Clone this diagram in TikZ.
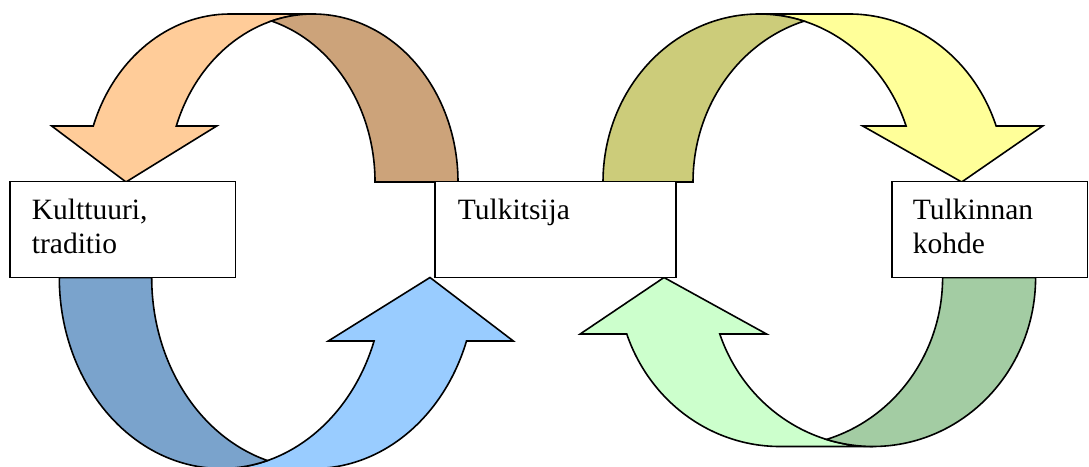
\documentclass[tikz,border=0pt]{standalone}
\usepackage{fontspec}
\setmainfont{Liberation Serif}

\definecolor{orangefront}{HTML}{FFCC99}
\definecolor{orangeback}{HTML}{CCA37A}
\definecolor{yellowfront}{HTML}{FFFF99}
\definecolor{yellowback}{HTML}{CCCC7A}
\definecolor{bluefront}{HTML}{99CCFF}
\definecolor{blueback}{HTML}{7AA3CC}
\definecolor{greenfront}{HTML}{CCFFCC}
\definecolor{greenback}{HTML}{A3CCA3}

\tikzset{
  band/.style={draw=black, line width=1.6pt, line join=miter},
  box/.style={draw=black, fill=white, line width=1.6pt, rectangle,
    inner sep=0pt, outer sep=0pt, anchor=north west},
  lbl/.style={inner sep=0pt, anchor=base west,
    font=\fontsize{29.5}{33}\selectfont},
  % radii of the two equal ellipses in each curved arrow
  rTL/.style={x radius=145pt, y radius=168pt},
  rTR/.style={x radius=156pt, y radius=168pt},
  rBR/.style={x radius=162.6pt, y radius=169pt},
  rBL/.style={x radius=162pt, y radius=191pt},
}

\begin{document}
\begin{tikzpicture}[x=1pt,y=1pt]
\useasboundingbox (0,0) rectangle (1089,466);
\clip (0,0) rectangle (1089,466);

% ---- upper left: curved arrow from Tulkitsija back to Kulttuuri
\filldraw[band, fill=orangefront]
  (93.3,340) arc[rTL, start angle=160.53, end angle=90]
  -- (313,452) arc[rTL, start angle=90, end angle=160.53]
  -- (216.7,340) -- (126,284) -- (51.7,340) -- cycle;
\filldraw[band, fill=orangeback]
  (458,284) arc[rTL, start angle=0, end angle=106.63]
  arc[rTL, start angle=73.37, end angle=0] -- cycle;

% ---- upper right: curved arrow from Tulkitsija to the object
\filldraw[band, fill=yellowfront]
  (996.1,340) arc[rTR, start angle=19.47, end angle=90]
  -- (759,452) arc[rTR, start angle=90, end angle=19.47]
  -- (862.7,340) -- (961.7,284) -- (1042.7,340) -- cycle;
\filldraw[band, fill=yellowback]
  (603,284) arc[rTR, start angle=180, end angle=73.23]
  arc[rTR, start angle=106.77, end angle=180] -- cycle;

% ---- lower right: curved arrow from the object back to Tulkitsija
\filldraw[band, fill=greenfront]
  (626.75,132) arc[rBR, start angle=199.53, end angle=270]
  -- (873,19.5) arc[rBR, start angle=270, end angle=199.53]
  -- (766.5,132) -- (664,188.5) -- (580.2,132) -- cycle;
\filldraw[band, fill=greenback]
  (1035.6,188.5) arc[rBR, start angle=360, end angle=253.38]
  arc[rBR, start angle=286.62, end angle=360] -- cycle;

% ---- lower left: curved arrow from Kulttuuri to Tulkitsija
\filldraw[band, fill=bluefront]
  (466.5,125) arc[rBL, start angle=340.58, end angle=270]
  -- (221.3,-2.5) arc[rBL, start angle=270, end angle=340.58]
  -- (328.3,125) -- (430,188.5) -- (513.3,125) -- cycle;
\filldraw[band, fill=blueback]
  (59.3,188.5) arc[rBL, start angle=180, end angle=286.57]
  arc[rBL, start angle=253.43, end angle=180] -- cycle;

% ---- text boxes
\node[box, minimum width=225.3pt, minimum height=95.8pt] (kulttuuri) at (10,284.3) {};
\node[box, minimum width=240.7pt, minimum height=95.8pt] (tulkitsija) at (435,284.3) {};
\node[box, minimum width=195.8pt, minimum height=95.8pt] (kohde) at (891.7,284.3) {};

\node[lbl] (kulttuuri1) at (31.7,246) {Kulttuuri,};
\node[lbl] (kulttuuri2) at (31.7,212.7) {traditio};
\node[lbl] (tulkitsija1) at (457.7,246) {Tulkitsija};
\node[lbl] (kohde1) at (912.7,246) {Tulkinnan};
\node[lbl] (kohde2) at (912.7,212.7) {kohde};
\end{tikzpicture}
\end{document}
